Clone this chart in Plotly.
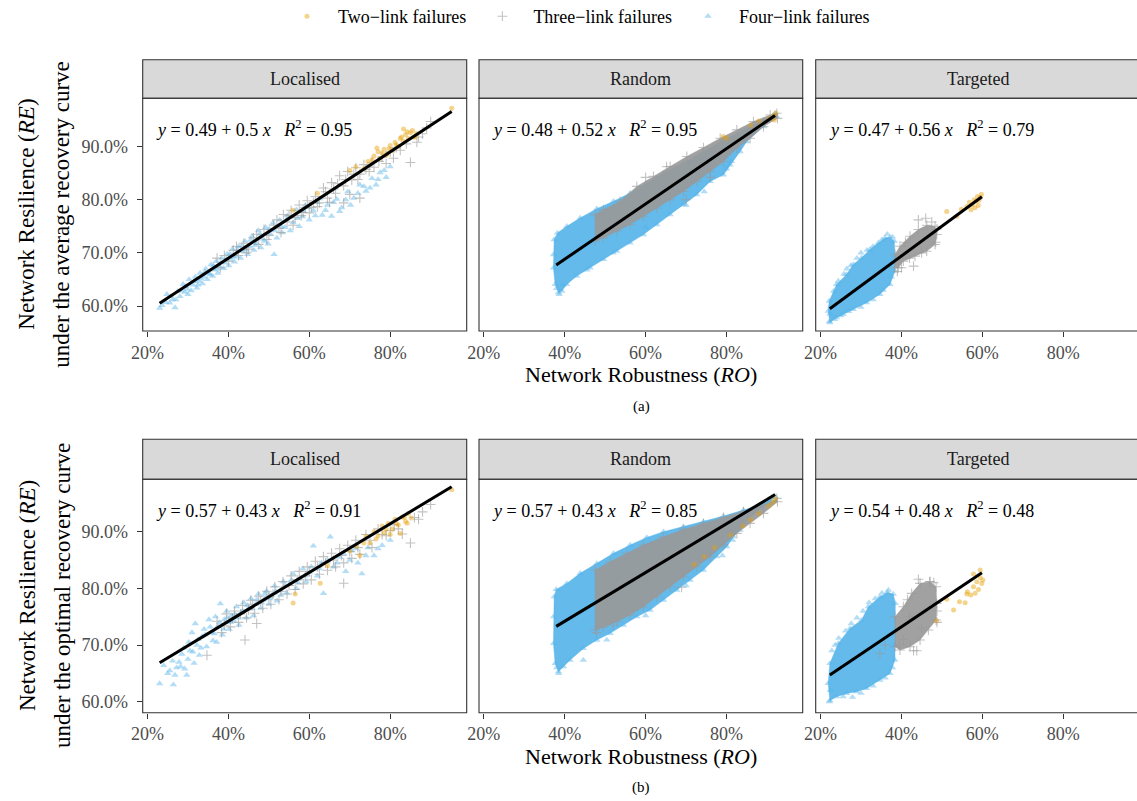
import plotly.graph_objects as go

W, H = 1137, 801

# ---------------- categories / labels ----------------
facets = ["Localised", "Random", "Targeted"]
series_names = ["Two\u2212link failures", "Three\u2212link failures", "Four\u2212link failures"]
x_tick_vals = [0.2, 0.4, 0.6, 0.8]
x_tick_text = ["20%", "40%", "60%", "80%"]
y_tick_vals = [0.6, 0.7, 0.8, 0.9]
y_tick_text = ["60.0%", "70.0%", "80.0%", "90.0%"]
row_titles = ["under the average recovery curve", "under the optimal recovery curve"]
captions = ["(a)", "(b)"]

# ---------------- fitted models (row a, row b) ----------------
fit_a_intercept = [0.49, 0.48, 0.47]
fit_a_slope = [0.50, 0.52, 0.56]
fit_a_r2 = [0.95, 0.95, 0.79]
fit_b_intercept = [0.57, 0.57, 0.54]
fit_b_slope = [0.43, 0.43, 0.48]
fit_b_r2 = [0.91, 0.85, 0.48]
fit_x_min = [0.23, 0.379, 0.223]
fit_x_max = [0.952, 0.92, 0.599]

# ---------------- Localised (a) ----------------
loc_a_four = [(0.230,0.596),(0.236,0.601),(0.248,0.622),(0.255,0.606),(0.262,0.612),(0.268,0.597),(0.275,0.628),(0.280,0.618),
    (0.288,0.641),(0.292,0.626),(0.298,0.632),(0.303,0.650),(0.308,0.629),(0.312,0.640),(0.318,0.655),(0.322,0.634),(0.327,0.647),
    (0.330,0.662),(0.336,0.642),(0.340,0.655),(0.344,0.670),(0.348,0.650),(0.352,0.661),(0.357,0.678),(0.361,0.656),(0.365,0.668),
    (0.370,0.684),(0.374,0.662),(0.379,0.674),(0.383,0.690),(0.388,0.671),(0.392,0.681),(0.397,0.698),(0.401,0.676),(0.406,0.688),
    (0.410,0.707),(0.415,0.683),(0.420,0.694),(0.425,0.712),(0.430,0.690),(0.436,0.703),(0.441,0.722),(0.447,0.697),(0.452,0.712),
    (0.458,0.731),(0.463,0.705),(0.469,0.718),(0.474,0.742),(0.480,0.710),(0.486,0.726),(0.492,0.748),(0.498,0.717),(0.504,0.735),
    (0.510,0.756),(0.513,0.697),(0.520,0.728),(0.527,0.762),(0.533,0.738),(0.540,0.748),(0.546,0.770),(0.553,0.742),(0.560,0.757),
    (0.568,0.781),(0.575,0.750),(0.583,0.768),(0.590,0.789),(0.600,0.762),(0.610,0.779),(0.620,0.795),(0.632,0.771),(0.645,0.790),
    (0.655,0.769),(0.668,0.801),(0.680,0.785),(0.695,0.815),(0.710,0.803),(0.725,0.828),(0.740,0.816),(0.755,0.840),(0.765,0.828),
    (0.775,0.851),(0.790,0.842),(0.800,0.862),
    (0.245,0.607),(0.258,0.618),(0.270,0.612),(0.283,0.629),(0.295,0.637),(0.300,0.622),(0.315,0.646),(0.325,0.640),(0.333,0.651),
    (0.342,0.664),(0.355,0.659),(0.363,0.676),(0.372,0.670),(0.381,0.682),(0.395,0.689),(0.404,0.698),(0.413,0.692),(0.422,0.706),
    (0.433,0.713),(0.444,0.706),(0.455,0.724),(0.466,0.714),(0.478,0.735),(0.489,0.722),(0.501,0.745),(0.515,0.742),(0.530,0.750),
    (0.543,0.762),(0.557,0.768),(0.571,0.765),(0.586,0.778),(0.598,0.785),(0.615,0.770),(0.626,0.802),(0.640,0.780),(0.660,0.795),
    (0.675,0.778),(0.690,0.800),(0.702,0.790),(0.720,0.812),(0.735,0.825),(0.750,0.822),(0.770,0.838),(0.785,0.855)]
loc_a_three = [(0.372,0.690),(0.380,0.672),(0.390,0.695),(0.400,0.684),(0.412,0.705),(0.425,0.695),(0.438,0.718),(0.450,0.707),
    (0.462,0.728),(0.475,0.716),(0.488,0.744),(0.500,0.733),(0.512,0.752),(0.525,0.746),(0.536,0.772),(0.545,0.758),(0.555,0.780),
    (0.565,0.766),(0.575,0.790),(0.585,0.776),(0.595,0.798),(0.605,0.785),(0.615,0.806),(0.625,0.794),(0.635,0.822),(0.645,0.803),
    (0.655,0.832),(0.665,0.812),(0.675,0.845),(0.685,0.826),(0.685,0.794),(0.695,0.853),(0.700,0.810),(0.705,0.837),(0.715,0.860),
    (0.725,0.848),(0.725,0.803),(0.735,0.866),(0.748,0.853),(0.760,0.861),(0.772,0.872),(0.790,0.868),(0.808,0.878),(0.825,0.893),
    (0.850,0.870),(0.866,0.908),(0.880,0.924),(0.900,0.947),
    (0.420,0.712),(0.445,0.700),(0.470,0.735),(0.495,0.725),(0.520,0.762),(0.530,0.738),(0.550,0.770),(0.560,0.752),(0.580,0.770),
    (0.590,0.785),(0.600,0.775),(0.610,0.795),(0.620,0.787),(0.640,0.815),(0.650,0.795),(0.660,0.820),(0.670,0.830),(0.690,0.838),
    (0.710,0.848),(0.720,0.838),(0.740,0.857),(0.755,0.870),(0.780,0.880),(0.800,0.890),(0.815,0.898),(0.840,0.905),(0.870,0.918),
    (0.890,0.935)]
loc_a_two = [(0.560,0.780),(0.620,0.812),(0.700,0.855),(0.715,0.862),(0.735,0.858),(0.745,0.872),(0.760,0.882),(0.767,0.897),
    (0.770,0.890),(0.775,0.878),(0.785,0.895),(0.790,0.884),(0.792,0.886),(0.800,0.902),(0.805,0.893),(0.812,0.908),(0.820,0.900),
    (0.825,0.915),(0.832,0.910),(0.833,0.933),(0.838,0.922),(0.845,0.915),(0.850,0.926),(0.858,0.918),(0.865,0.924),(0.952,0.972),
    (0.755,0.875),(0.780,0.888),(0.797,0.896),(0.815,0.903),(0.828,0.918),(0.842,0.928),(0.855,0.930),(0.862,0.918)]

# ---------------- Localised (b) ----------------
loc_b_four = [(0.230,0.632),(0.240,0.664),(0.255,0.655),(0.264,0.630),(0.268,0.647),(0.272,0.660),(0.278,0.670),(0.285,0.684),
    (0.292,0.658),(0.297,0.647),(0.300,0.675),(0.305,0.690),(0.310,0.722),(0.315,0.668),(0.318,0.738),(0.322,0.700),(0.328,0.682),
    (0.335,0.715),(0.340,0.728),(0.346,0.697),(0.352,0.745),(0.358,0.722),(0.362,0.708),(0.368,0.750),(0.374,0.733),(0.380,0.773),
    (0.385,0.718),(0.390,0.745),(0.396,0.760),(0.402,0.728),(0.408,0.752),(0.414,0.742),(0.420,0.768),(0.426,0.735),(0.432,0.758),
    (0.438,0.775),(0.444,0.748),(0.450,0.765),(0.456,0.782),(0.462,0.752),(0.468,0.772),(0.474,0.790),(0.480,0.765),(0.487,0.780),
    (0.494,0.795),(0.500,0.772),(0.507,0.788),(0.514,0.804),(0.520,0.778),(0.528,0.796),(0.536,0.812),(0.544,0.792),(0.552,0.808),
    (0.560,0.826),(0.568,0.800),(0.576,0.818),(0.584,0.835),(0.592,0.812),(0.600,0.828),(0.610,0.875),(0.620,0.822),(0.630,0.845),
    (0.635,0.791),(0.652,0.891),(0.660,0.838),(0.675,0.855),(0.690,0.830),(0.705,0.866),(0.720,0.845),(0.730,0.826),(0.745,0.872),
    (0.760,0.858),(0.780,0.876),(0.800,0.885),
    (0.250,0.650),(0.262,0.672),(0.282,0.662),(0.290,0.695),(0.302,0.705),(0.312,0.688),(0.325,0.710),(0.332,0.695),(0.343,0.718),
    (0.355,0.732),(0.365,0.720),(0.371,0.705),(0.378,0.740),(0.388,0.728),(0.398,0.748),(0.405,0.740),(0.416,0.755),(0.424,0.748),
    (0.435,0.760),(0.447,0.770),(0.458,0.765),(0.470,0.780),(0.482,0.775),(0.490,0.790),(0.503,0.782),(0.517,0.795),(0.530,0.788),
    (0.540,0.805),(0.556,0.815),(0.572,0.810),(0.588,0.822),(0.605,0.838),(0.625,0.835),(0.645,0.850),(0.668,0.845),(0.685,0.862),
    (0.700,0.850),(0.715,0.870),(0.740,0.858),(0.770,0.870)]
loc_b_three = [(0.347,0.682),(0.372,0.742),(0.383,0.722),(0.395,0.755),(0.405,0.732),(0.415,0.760),(0.425,0.740),(0.435,0.770),
    (0.441,0.709),(0.445,0.748),(0.455,0.779),(0.465,0.756),(0.470,0.738),(0.475,0.786),(0.485,0.765),(0.495,0.795),(0.505,0.772),
    (0.515,0.803),(0.525,0.780),(0.535,0.812),(0.545,0.790),(0.555,0.822),(0.565,0.798),(0.575,0.830),(0.585,0.808),(0.595,0.838),
    (0.605,0.815),(0.615,0.848),(0.625,0.825),(0.635,0.856),(0.645,0.832),(0.655,0.862),(0.665,0.838),(0.675,0.870),(0.685,0.845),
    (0.685,0.809),(0.695,0.876),(0.705,0.853),(0.715,0.885),(0.725,0.860),(0.740,0.895),(0.755,0.872),(0.770,0.905),(0.790,0.893),
    (0.810,0.912),(0.830,0.896),(0.850,0.880),(0.870,0.922),(0.900,0.948),
    (0.390,0.735),(0.410,0.748),(0.430,0.755),(0.450,0.762),(0.460,0.772),(0.480,0.778),(0.500,0.785),(0.510,0.790),(0.530,0.795),
    (0.550,0.805),(0.570,0.815),(0.590,0.822),(0.600,0.830),(0.620,0.838),(0.640,0.845),(0.660,0.850),(0.680,0.858),(0.700,0.865),
    (0.720,0.872),(0.750,0.885),(0.780,0.895),(0.800,0.902),(0.820,0.905),(0.860,0.925),(0.880,0.935)]
loc_b_two = [(0.560,0.774),(0.565,0.790),(0.627,0.809),(0.645,0.840),(0.700,0.866),(0.717,0.874),(0.725,0.858),(0.740,0.892),
    (0.750,0.880),(0.760,0.900),(0.770,0.893),(0.780,0.910),(0.785,0.898),(0.795,0.915),(0.805,0.905),(0.812,0.922),(0.820,0.912),
    (0.825,0.897),(0.830,0.926),(0.838,0.918),(0.845,0.932),(0.852,0.924),(0.952,0.974),
    (0.735,0.880),(0.765,0.887),(0.790,0.905),(0.800,0.895),(0.815,0.915),(0.835,0.925),(0.842,0.915)]

# ---------------- Random (a): dense clouds as outlines + sparse points ----------------
rnd_a_four_outline = [(0.3846,0.625),(0.3763,0.6406),(0.3722,0.6719),(0.3722,0.6969),(0.3739,0.725),(0.3821,0.7375),(0.4052,0.75),
    (0.4381,0.7656),(0.4794,0.7831),(0.5206,0.7969),(0.5618,0.8125),(0.6030,0.8313),(0.6442,0.85),(0.6936,0.8688),(0.7430,0.8906),
    (0.7925,0.9125),(0.8419,0.9313),(0.8914,0.95),(0.9202,0.9625),(0.9243,0.9563),(0.8914,0.9375),(0.8502,0.9094),(0.8337,0.8906),
    (0.8090,0.8656),(0.7925,0.8469),(0.7595,0.8344),(0.7266,0.8094),(0.6936,0.7906),(0.6606,0.7719),(0.6277,0.7531),(0.5947,0.7344),
    (0.5618,0.7188),(0.5288,0.7031),(0.4958,0.6875),(0.4629,0.6719),(0.4299,0.6563),(0.4052,0.6406),(0.3928,0.6281)]
rnd_a_four = [(0.386,0.622),(0.380,0.633),(0.395,0.640),(0.455,0.668),(0.520,0.700),(0.600,0.748),(0.700,0.790),(0.800,0.858),
    (0.812,0.872),(0.745,0.815)]
rnd_a_three_outline = [(0.4752,0.7219),(0.4752,0.7719),(0.4958,0.7813),(0.5370,0.7969),(0.5783,0.825),(0.6195,0.8438),(0.6607,0.8625),
    (0.7019,0.8813),(0.7431,0.8981),(0.7843,0.9156),(0.8255,0.9313),(0.8667,0.9469),(0.9079,0.9594),(0.9243,0.9625),(0.926,0.953),
    (0.8914,0.9375),(0.8584,0.9156),(0.8255,0.8969),(0.7925,0.8719),(0.7595,0.8531),(0.7266,0.8344),(0.6936,0.8156),(0.6607,0.80),
    (0.6277,0.7844),(0.5947,0.7688),(0.5618,0.7531),(0.5288,0.7406),(0.4958,0.7281)]
rnd_a_three = [(0.652,0.862),(0.600,0.842),(0.700,0.800),(0.760,0.842)]
rnd_a_two = [(0.905,0.952),(0.916,0.958),(0.922,0.963),(0.918,0.950),(0.792,0.919),(0.800,0.915),(0.860,0.940),(0.880,0.948)]

# ---------------- Random (b) ----------------
rnd_b_four_outline = [(0.3846,0.6529),(0.3763,0.6676),(0.3722,0.7029),(0.3722,0.75),(0.3739,0.7853),(0.3788,0.7982),(0.4052,0.8088),
    (0.4381,0.8265),(0.4794,0.8441),(0.5206,0.8618),(0.5618,0.8765),(0.6030,0.89),(0.6442,0.90),(0.6936,0.9088),(0.7430,0.9176),
    (0.7925,0.9276),(0.8419,0.9382),(0.8831,0.9471),(0.9202,0.9618),(0.9079,0.9529),(0.8749,0.9353),(0.8502,0.9206),(0.8337,0.9029),
    (0.8172,0.8912),(0.8007,0.8735),(0.7760,0.8559),(0.7430,0.8324),(0.7101,0.8147),(0.6771,0.7971),(0.6442,0.7794),(0.6112,0.7618),
    (0.5783,0.75),(0.5453,0.7353),(0.5123,0.7206),(0.4794,0.7088),(0.4464,0.6941),(0.4134,0.6735),(0.3970,0.6618)]
rnd_b_four = [(0.385,0.650),(0.446,0.6735),(0.504,0.709),(0.380,0.660),(0.600,0.752),(0.700,0.805),(0.790,0.858),(0.815,0.885)]
rnd_b_three_outline = [(0.4752,0.7265),(0.4752,0.8324),(0.5123,0.8471),(0.5535,0.8618),(0.5947,0.8765),(0.6442,0.8912),(0.6936,0.9041),
    (0.7430,0.9147),(0.7925,0.9253),(0.8419,0.9353),(0.8914,0.9471),(0.9243,0.9588),(0.9260,0.9529),(0.8914,0.9324),(0.8584,0.9147),
    (0.8255,0.8971),(0.7925,0.8765),(0.7595,0.8559),(0.7266,0.8382),(0.6936,0.8206),(0.6607,0.8029),(0.6277,0.7853),(0.5947,0.7676),
    (0.5618,0.7529),(0.5288,0.7412),(0.4958,0.7312)]
rnd_b_three = [(0.689,0.802),(0.479,0.722),(0.520,0.735)]
rnd_b_two = [(0.920,0.958),(0.915,0.952),(0.905,0.946),(0.880,0.932),(0.860,0.921),(0.840,0.910),(0.810,0.894),(0.770,0.872),
    (0.745,0.856),(0.720,0.842)]

# ---------------- Targeted (a) ----------------
tgt_a_four_outline = [(0.2231,0.5688),(0.2190,0.5906),(0.2215,0.6094),(0.2396,0.6406),(0.2644,0.6594),(0.2809,0.6781),(0.3016,0.6906),
    (0.3222,0.7063),(0.3429,0.7188),(0.3594,0.7281),(0.3718,0.7294),(0.3825,0.7219),(0.3841,0.6969),(0.3841,0.6656),(0.3718,0.6406),
    (0.3470,0.6219),(0.3140,0.6063),(0.2809,0.5938),(0.2562,0.5844),(0.2396,0.5781)]
tgt_a_four = [(0.222,0.571),(0.223,0.585),(0.226,0.600),(0.232,0.628),(0.244,0.647),(0.258,0.660),(0.265,0.670),(0.275,0.676),
    (0.290,0.690),(0.300,0.700),(0.315,0.705),(0.330,0.712),(0.352,0.725),(0.365,0.735),(0.378,0.730),(0.382,0.690),(0.375,0.655),
    (0.355,0.630),(0.330,0.612),(0.300,0.598),(0.270,0.590),(0.250,0.582),(0.235,0.575)]
tgt_a_three_outline = [(0.3841,0.6719),(0.3841,0.6969),(0.3965,0.7125),(0.4213,0.7313),(0.4419,0.7438),(0.4626,0.7519),(0.4832,0.75),
    (0.4874,0.7344),(0.4832,0.7156),(0.4626,0.7031),(0.4337,0.6938),(0.4048,0.6844),(0.3924,0.6719)]
tgt_a_three = [(0.442,0.762),(0.475,0.758),(0.460,0.765),(0.430,0.675),(0.400,0.672),(0.390,0.665),(0.485,0.720),(0.488,0.745),
    (0.410,0.720),(0.450,0.700),(0.420,0.690)]
tgt_a_two = [(0.512,0.778),(0.537,0.769),(0.548,0.782),(0.562,0.787),(0.568,0.795),(0.575,0.790),(0.580,0.800),(0.585,0.797),
    (0.588,0.806),(0.592,0.799),(0.595,0.804),(0.598,0.810),(0.590,0.789),(0.582,0.785),(0.572,0.781)]

# ---------------- Targeted (b) ----------------
tgt_b_four_outline = [(0.2231,0.6018),(0.2190,0.6324),(0.2231,0.6676),(0.2438,0.7029),(0.2727,0.7294),(0.3016,0.7441),(0.3181,0.7676),
    (0.3470,0.7853),(0.3652,0.7929),(0.3800,0.79),(0.3850,0.7735),(0.3850,0.7265),(0.3841,0.6735),(0.3718,0.65),(0.3470,0.6382),
    (0.3140,0.6235),(0.2892,0.6176),(0.2644,0.6147),(0.2396,0.6088)]
tgt_b_four = [(0.222,0.600),(0.224,0.620),(0.228,0.690),(0.236,0.700),(0.245,0.712),(0.262,0.725),(0.276,0.738),(0.290,0.748),
    (0.305,0.760),(0.320,0.775),(0.335,0.782),(0.352,0.792),(0.368,0.797),(0.256,0.609),(0.279,0.608),(0.300,0.615),(0.330,0.628),
    (0.360,0.642),(0.378,0.660),(0.383,0.700)]
tgt_b_three_outline = [(0.3841,0.6971),(0.3841,0.75),(0.4048,0.7676),(0.4254,0.7912),(0.4461,0.8088),(0.4709,0.8118),(0.4857,0.8029),
    (0.4874,0.7735),(0.4857,0.7441),(0.4667,0.7265),(0.4461,0.7088),(0.4213,0.6971),(0.3965,0.6912)]
tgt_b_three = [(0.442,0.816),(0.470,0.812),(0.480,0.810),(0.438,0.690),(0.430,0.690),(0.347,0.685),(0.360,0.700),(0.395,0.700),
    (0.488,0.760),(0.488,0.740),(0.415,0.780),(0.420,0.750),(0.450,0.730),(0.405,0.710)]
tgt_b_two = [(0.487,0.743),(0.529,0.762),(0.5435,0.7765),(0.5576,0.7747),(0.5121,0.7806),(0.5633,0.7941),(0.5716,0.7882),
    (0.5782,0.8029),(0.5865,0.8118),(0.5947,0.8194),(0.5906,0.7982),(0.5988,0.8088),(0.5782,0.8253),(0.5947,0.8324),(0.5617,0.79),
    (0.5823,0.7912),(0.6013,0.8147)]

# ---------------- styling ----------------
FONT = "Liberation Serif, Times New Roman, serif"
C_TWO, C_THREE, C_FOUR = "230,159,0", "153,153,153", "86,180,233"

# pixel layout of panels
panel_left = [142.7, 479.0, 815.7]
panel_right = [466.7, 802.7, 1139.7]
row_plot_top = [98.3, 479.3]
row_plot_bottom = [331.0, 712.7]
row_strip_top = [59.7, 439.3]
row_y_range = [[0.553, 0.9907], [0.5806, 0.9925]]
PX_PER_UNIT = 404.5
X0 = 0.2 - 4.8 / PX_PER_UNIT


def xy(pairs):
    return [p[0] for p in pairs], [p[1] for p in pairs]


panels = [
    [dict(four=loc_a_four, three=loc_a_three, two=loc_a_two),
     dict(four_o=rnd_a_four_outline, four=rnd_a_four, three_o=rnd_a_three_outline, three=rnd_a_three, two=rnd_a_two),
     dict(four_o=tgt_a_four_outline, four=tgt_a_four, three_o=tgt_a_three_outline, three=tgt_a_three, two=tgt_a_two)],
    [dict(four=loc_b_four, three=loc_b_three, two=loc_b_two),
     dict(four_o=rnd_b_four_outline, four=rnd_b_four, three_o=rnd_b_three_outline, three=rnd_b_three, two=rnd_b_two),
     dict(four_o=tgt_b_four_outline, four=tgt_b_four, three_o=tgt_b_three_outline, three=tgt_b_three, two=tgt_b_two)],
]
fits = [(fit_a_intercept, fit_a_slope, fit_a_r2), (fit_b_intercept, fit_b_slope, fit_b_r2)]

marker_two = dict(symbol="circle", size=5, color=f"rgba({C_TWO},0.45)", line=dict(width=0))
marker_three = dict(symbol="cross-thin", size=7, color=f"rgba({C_THREE},0.6)",
                    line=dict(width=1.1, color=f"rgba({C_THREE},0.6)"))
marker_four = dict(symbol="triangle-up", size=6.5, color=f"rgba({C_FOUR},0.45)", line=dict(width=0))

fig = go.Figure()
shapes, annotations = [], []

for r in range(2):
    for c in range(3):
        p = r * 3 + c
        sfx = "" if p == 0 else str(p + 1)
        xa, ya = "x" + sfx, "y" + sfx
        layers = panels[r][c]
        first = (p == 0)

        def add_outline(key, rgb):
            if key in layers:
                ox, oy = xy(layers[key])
                fig.add_trace(go.Scatter(x=ox + [ox[0]], y=oy + [oy[0]], mode="lines", fill="toself",
                                         fillcolor=f"rgba({rgb},0.92)", line=dict(width=0.8, color=f"rgba({rgb},0.5)"),
                                         xaxis=xa, yaxis=ya, showlegend=False, hoverinfo="skip"))
                fig.add_trace(go.Scatter(x=ox, y=oy, mode="markers",
                                         marker=marker_four if rgb == C_FOUR else marker_three,
                                         xaxis=xa, yaxis=ya, showlegend=False, hoverinfo="skip"))

        add_outline("four_o", C_FOUR)
        px_, py_ = xy(layers["four"])
        fig.add_trace(go.Scatter(x=px_, y=py_, mode="markers", marker=marker_four, name=series_names[2],
                                 legendgroup="four", legendrank=3, showlegend=first, xaxis=xa, yaxis=ya))
        add_outline("three_o", C_THREE)
        px_, py_ = xy(layers["three"])
        fig.add_trace(go.Scatter(x=px_, y=py_, mode="markers", marker=marker_three, name=series_names[1],
                                 legendgroup="three", legendrank=2, showlegend=first, xaxis=xa, yaxis=ya))
        px_, py_ = xy(layers["two"])
        fig.add_trace(go.Scatter(x=px_, y=py_, mode="markers", marker=marker_two, name=series_names[0],
                                 legendgroup="two", legendrank=1, showlegend=first, xaxis=xa, yaxis=ya))

        # regression line
        b0, b1, r2 = fits[r][0][c], fits[r][1][c], fits[r][2][c]
        lx = [fit_x_min[c], fit_x_max[c]]
        fig.add_trace(go.Scatter(x=lx, y=[b0 + b1 * v for v in lx], mode="lines",
                                 line=dict(color="black", width=3), showlegend=False, xaxis=xa, yaxis=ya,
                                 hoverinfo="skip"))

        # axes
        xl, xr = panel_left[c], panel_right[c]
        xr_vis = min(xr, W)
        yt, yb = row_plot_top[r], row_plot_bottom[r]
        xdom = [xl / W, xr_vis / W]
        ydom = [1 - yb / H, 1 - yt / H]
        fig.layout["xaxis" + sfx] = dict(
            domain=xdom, range=[X0, X0 + (xr_vis - xl) / PX_PER_UNIT], anchor=ya, automargin=False,
            tickvals=x_tick_vals, ticktext=x_tick_text, ticks="outside", ticklen=5, tickwidth=1.1,
            tickcolor="#333333", showgrid=False, zeroline=False, showline=False,
            tickfont=dict(family=FONT, size=18, color="#4D4D4D"), fixedrange=True)
        fig.layout["yaxis" + sfx] = dict(
            domain=ydom, range=row_y_range[r], anchor=xa, automargin=False,
            tickvals=y_tick_vals, ticktext=y_tick_text, ticks="outside" if c == 0 else "",
            showticklabels=(c == 0), ticklen=5, tickwidth=1.1, tickcolor="#333333", ticklabelstandoff=5,
            showgrid=False, zeroline=False, showline=False,
            tickfont=dict(family=FONT, size=18, color="#4D4D4D"), fixedrange=True)

        # panel border and strip
        shapes.append(dict(type="rect", xref="paper", yref="paper", x0=xl / W, x1=xr / W,
                           y0=1 - yb / H, y1=1 - yt / H, line=dict(color="#333333", width=1.1),
                           fillcolor="rgba(0,0,0,0)", layer="above"))
        st = row_strip_top[r]
        shapes.append(dict(type="rect", xref="paper", yref="paper", x0=xl / W, x1=xr / W,
                           y0=1 - yt / H, y1=1 - st / H, line=dict(color="#333333", width=1.1),
                           fillcolor="#D9D9D9", layer="below"))
        annotations.append(dict(text=facets[c], xref="paper", yref="paper", x=(xl + xr) / 2 / W,
                                y=1 - (st + yt) / 2 / H, showarrow=False, xanchor="center", yanchor="middle",
                                font=dict(family=FONT, size=18, color="#1A1A1A")))
        # equation label
        eq = (f"<i>y</i> = {b0:g} + {b1:g} <i>x</i>\u00a0\u00a0\u00a0<i>R</i><sup>2</sup> = {r2:g}")
        annotations.append(dict(text=eq, xref="paper", yref="paper", x=(xl + 11) / W,
                                y=1 - (yt + 30) / H, showarrow=False, xanchor="left", yanchor="middle",
                                font=dict(family=FONT, size=18, color="black")))

    # row-level titles
    yt, yb = row_plot_top[r], row_plot_bottom[r]
    ymid = 1 - (yt + yb) / 2 / H
    annotations.append(dict(text="Network Resilience (<i>RE</i>)", xref="paper", yref="paper", x=27 / W, y=ymid,
                            textangle=-90, showarrow=False, xanchor="center", yanchor="middle",
                            font=dict(family=FONT, size=23, color="black")))
    annotations.append(dict(text=row_titles[r], xref="paper", yref="paper", x=62 / W, y=ymid,
                            textangle=-90, showarrow=False, xanchor="center", yanchor="middle",
                            font=dict(family=FONT, size=23, color="black")))
    annotations.append(dict(text="Network Robustness (<i>RO</i>)", xref="paper", yref="paper", x=641 / W,
                            y=1 - (yb + 43.5) / H, showarrow=False, xanchor="center", yanchor="middle",
                            font=dict(family=FONT, size=22, color="black")))
    annotations.append(dict(text=captions[r], xref="paper", yref="paper", x=641 / W,
                            y=1 - (yb + 75) / H, showarrow=False, xanchor="center", yanchor="middle",
                            font=dict(family=FONT, size=15, color="black")))

fig.update_layout(
    width=W, height=H, margin=dict(l=0, r=0, t=0, b=0, autoexpand=False),
    paper_bgcolor="white", plot_bgcolor="white",
    shapes=shapes, annotations=annotations,
    legend=dict(orientation="h", x=0.5 + 7 / W, xanchor="center", y=1.0 + 2 / H, yanchor="top",
                font=dict(family=FONT, size=18, color="black"), itemwidth=52, bgcolor="rgba(0,0,0,0)"),
    font=dict(family=FONT),
)

fig.write_html("out.html", config={"displayModeBar": False},
               post_script="document.body.style.margin='0';")
